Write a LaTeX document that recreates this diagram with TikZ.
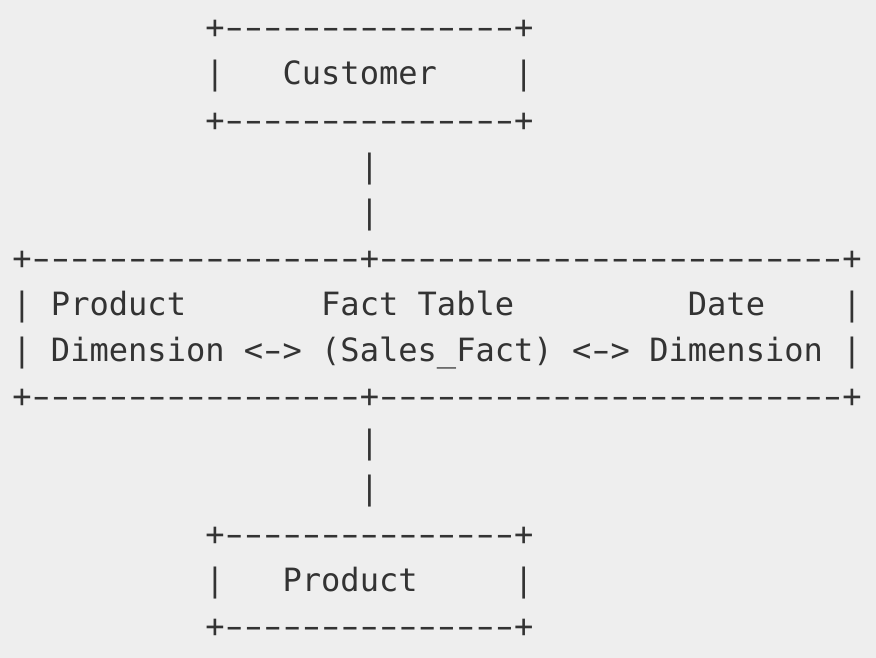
\documentclass[tikz,border=0pt]{standalone}
\usepackage{fontspec}
\setmonofont{DejaVu Sans Mono}
\definecolor{bg}{HTML}{EEEEEE}
\definecolor{ink}{HTML}{333333}
\newcommand{\cw}{19.30}
\newcommand{\cx}{12.35}
% one wide dash filling most of a character cell, as in the reference
\newcommand{\D}{\makebox[19.30pt][c]{\scalebox{1.6}[1]{-}}}
\newcommand{\dashrun}[1]{\foreach \k in {1,...,#1}{\D}}
\tikzset{
  asc/.style={anchor=base west, inner sep=0pt, outer sep=0pt, text=ink,
    font=\ttfamily\fontsize{32.06pt}{46pt}\selectfont}
}
\begin{document}
\begin{tikzpicture}[x=1pt,y=-1pt]
\fill[bg] (0,0) rectangle (876,658);
\useasboundingbox (0,0) rectangle (876,658);
% baseline of row k: 38.86 + 46.08*k ; column i: 12.35 + 19.30*i
% Customer box
\node[asc] (c0) at ({\cx+10*\cw},38.86) {+\dashrun{15}+};
\node[asc] (c1l) at ({\cx+10*\cw},84.94) {|};
\node[asc] (c1t) at ({\cx+14*\cw},84.94) {Customer};
\node[asc] (c1r) at ({\cx+26*\cw},84.94) {|};
\node[asc] (c2) at ({\cx+10*\cw},131.02) {+\dashrun{15}+};
% connector up
\node[asc] (v1) at ({\cx+18*\cw},177.10) {|};
\node[asc] (v2) at ({\cx+18*\cw},223.18) {|};
% Fact table box
\node[asc] (f0) at ({\cx+0*\cw},269.26) {+\dashrun{17}+\dashrun{24}+};
\node[asc] (f1l) at ({\cx+0*\cw},315.34) {|};
\node[asc] (f1a) at ({\cx+2*\cw},315.34) {Product};
\node[asc] (f1b) at ({\cx+16*\cw},315.34) {Fact Table};
\node[asc] (f1c) at ({\cx+35*\cw},315.34) {Date};
\node[asc] (f1r) at ({\cx+43*\cw},315.34) {|};
\node[asc] (f2l) at ({\cx+0*\cw},361.42) {|};
\node[asc] (f2a) at ({\cx+2*\cw},361.42) {Dimension};
\node[asc] (f2b) at ({\cx+12*\cw},361.42) {<\D>};
\node[asc] (f2c) at ({\cx+16*\cw},361.42) {(Sales\_Fact)};
\node[asc] (f2d) at ({\cx+29*\cw},361.42) {<\D>};
\node[asc] (f2e) at ({\cx+33*\cw},361.42) {Dimension};
\node[asc] (f2r) at ({\cx+43*\cw},361.42) {|};
\node[asc] (f3) at ({\cx+0*\cw},407.50) {+\dashrun{17}+\dashrun{24}+};
% connector down
\node[asc] (v3) at ({\cx+18*\cw},453.58) {|};
\node[asc] (v4) at ({\cx+18*\cw},499.66) {|};
% Product box
\node[asc] (p0) at ({\cx+10*\cw},545.74) {+\dashrun{15}+};
\node[asc] (p1l) at ({\cx+10*\cw},591.82) {|};
\node[asc] (p1t) at ({\cx+14*\cw},591.82) {Product};
\node[asc] (p1r) at ({\cx+26*\cw},591.82) {|};
\node[asc] (p2) at ({\cx+10*\cw},637.90) {+\dashrun{15}+};
\end{tikzpicture}
\end{document}
